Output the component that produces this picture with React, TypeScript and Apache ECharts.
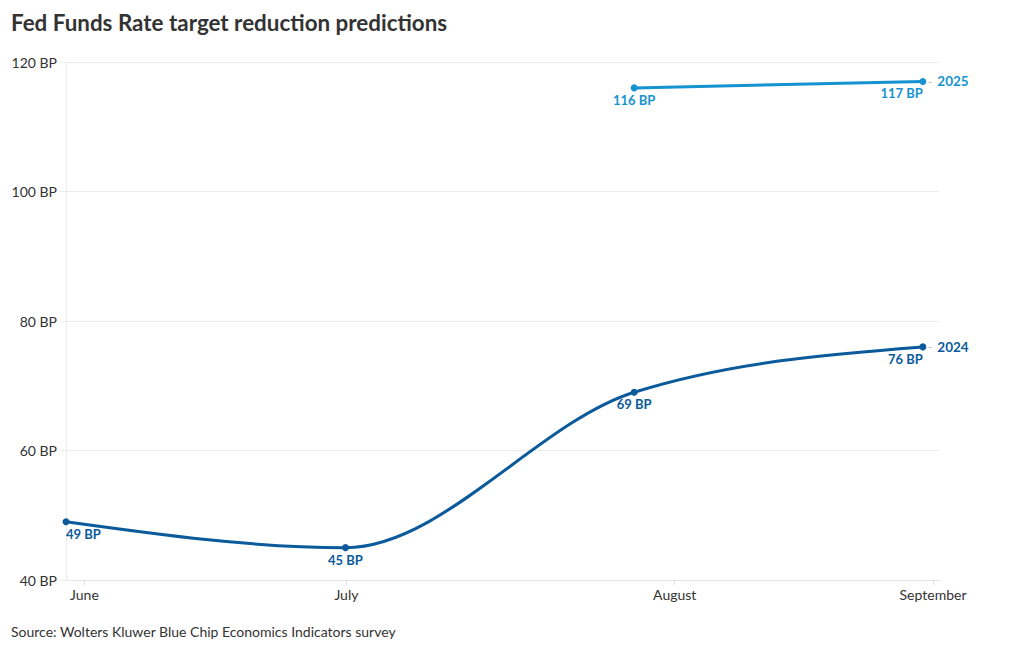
import React, { useEffect, useRef } from "react";
import * as echarts from "echarts";

// x = approximate days after June 1 (survey timeline)
const tickDays = [0, 28.4, 64.0, 92];
const tickLabels = ["June", "July", "August", "September"];

const days2024 = [-2, 28.3, 59.6, 90.9];
const values2024 = [49, 45, 69, 76];
const labelAlign2024 = ["left", "center", "center", "right"];

const days2025 = [59.6, 90.9];
const values2025 = [116, 117];
const labelAlign2025 = ["center", "right"];

const yTicks = [40, 60, 80, 100, 120];

const COLOR_2024 = "#0b5a9b";
const COLOR_2025 = "#1592d0";
const FONT = "Lato, 'Noto Sans', sans-serif";

function buildData(days: number[], vals: number[], aligns: string[]) {
  return days.map((d, i) => ({
    value: [d, vals[i]],
    label: { align: aligns[i] },
  }));
}

// d3-style monotoneX curve through pixel points
function monotonePath(pts: number[][]): string {
  const n = pts.length;
  if (n < 2) return "";
  if (n === 2) return `M${pts[0][0]},${pts[0][1]}L${pts[1][0]},${pts[1][1]}`;
  const sign = (v: number) => (v < 0 ? -1 : 1);
  const t: number[] = new Array(n).fill(0);
  for (let i = 1; i < n - 1; i++) {
    const h0 = pts[i][0] - pts[i - 1][0];
    const h1 = pts[i + 1][0] - pts[i][0];
    const s0 = (pts[i][1] - pts[i - 1][1]) / (h0 || 1e-9);
    const s1 = (pts[i + 1][1] - pts[i][1]) / (h1 || 1e-9);
    const p = (s0 * h1 + s1 * h0) / (h0 + h1);
    t[i] = (sign(s0) + sign(s1)) * Math.min(Math.abs(s0), Math.abs(s1), 0.5 * Math.abs(p)) || 0;
  }
  {
    const h = pts[1][0] - pts[0][0];
    t[0] = h ? (3 * (pts[1][1] - pts[0][1]) / h - t[1]) / 2 : t[1];
    const hn = pts[n - 1][0] - pts[n - 2][0];
    t[n - 1] = hn ? (3 * (pts[n - 1][1] - pts[n - 2][1]) / hn - t[n - 2]) / 2 : t[n - 2];
  }
  let d = `M${pts[0][0]},${pts[0][1]}`;
  for (let i = 0; i < n - 1; i++) {
    const [x0, y0] = pts[i];
    const [x1, y1] = pts[i + 1];
    const dx = (x1 - x0) / 3;
    d += `C${x0 + dx},${y0 + dx * t[i]},${x1 - dx},${y1 - dx * t[i + 1]},${x1},${y1}`;
  }
  return d;
}

export default function App() {
  const ref = useRef<HTMLDivElement>(null);

  useEffect(() => {
    if (!ref.current) return;
    const chart = echarts.init(ref.current, null, { renderer: "svg" });

    const curveSeries = (name: string, color: string, days: number[], vals: number[]) => ({
      name: name + "-curve",
      type: "custom",
      data: [[days[0], vals[0]]],
      silent: true,
      z: 2,
      renderItem: (_params: any, api: any) => {
        const pts = days.map((d, i) => api.coord([d, vals[i]]));
        return {
          type: "path",
          shape: { pathData: monotonePath(pts) },
          style: { stroke: color, lineWidth: 3, fill: "none" },
        };
      },
    });

    const pointSeries = (name: string, color: string, data: any[]) => ({
      name,
      type: "line",
      data,
      z: 3,
      symbol: "circle",
      symbolSize: 7,
      lineStyle: { color, width: 0, opacity: 0 },
      itemStyle: { color },
      label: {
        show: true,
        position: "bottom",
        distance: 2,
        formatter: (p: any) => `${p.value[1]} BP`,
        color,
        fontFamily: FONT,
        fontWeight: "bold",
        fontSize: 13,
      },
      endLabel: {
        show: true,
        distance: 4,
        formatter: () => `{d|-}{y|${name}}`,
        rich: {
          d: { color: "#bbbbbb", fontSize: 12, fontFamily: FONT, padding: [0, 5, 0, 1] },
          y: { color, fontSize: 13.5, fontWeight: "bold", fontFamily: FONT },
        },
      },
      emphasis: { disabled: true },
    });

    chart.setOption({
      animation: false,
      textStyle: { fontFamily: FONT },
      title: {
        text: "Fed Funds Rate target reduction predictions",
        left: 11,
        top: 11,
        padding: 0,
        textStyle: {
          fontFamily: FONT,
          fontWeight: "bold",
          fontSize: 22.4,
          color: "#333333",
        },
      },
      grid: { left: 66, right: 81, top: 62, bottom: 70, containLabel: false },
      xAxis: {
        type: "value",
        min: -2,
        max: 92.65,
        splitLine: { show: false },
        axisLine: { show: true, onZero: false, lineStyle: { color: "#e6e6e6", width: 1 } },
        axisTick: {
          show: true,
          customValues: tickDays,
          length: 5,
          lineStyle: { color: "#dddddd" },
        },
        axisLabel: {
          customValues: tickDays,
          formatter: (v: number) => {
            const i = tickDays.findIndex((t) => Math.abs(t - v) < 0.01);
            return i >= 0 ? tickLabels[i] : "";
          },
          color: "#333333",
          fontSize: 14,
          fontFamily: FONT,
          margin: 7,
        },
      },
      yAxis: {
        type: "value",
        min: yTicks[0],
        max: yTicks[yTicks.length - 1],
        interval: 20,
        axisLine: { show: true, onZero: false, lineStyle: { color: "#ececec" } },
        axisTick: { show: true, length: 6, lineStyle: { color: "#ececec" } },
        splitLine: { show: true, lineStyle: { color: "#ececec", width: 1 } },
        axisLabel: {
          formatter: "{value} BP",
          color: "#333333",
          fontSize: 14,
          fontFamily: FONT,
          margin: 9,
        },
      },
      series: [
        curveSeries("2024", COLOR_2024, days2024, values2024),
        curveSeries("2025", COLOR_2025, days2025, values2025),
        pointSeries("2024", COLOR_2024, buildData(days2024, values2024, labelAlign2024)),
        pointSeries("2025", COLOR_2025, buildData(days2025, values2025, labelAlign2025)),
      ],
      graphic: [
        {
          type: "text",
          left: 11,
          top: 624,
          style: {
            text: "Source: Wolters Kluwer Blue Chip Economics Indicators survey",
            fill: "#333333",
            font: `14px ${FONT}`,
          },
        },
      ],
    });

    return () => chart.dispose();
  }, []);

  return (
    <div
      ref={ref}
      style={{ position: "absolute", left: 0, top: 0, width: 1020, height: 650, background: "#ffffff" }}
    />
  );
}
